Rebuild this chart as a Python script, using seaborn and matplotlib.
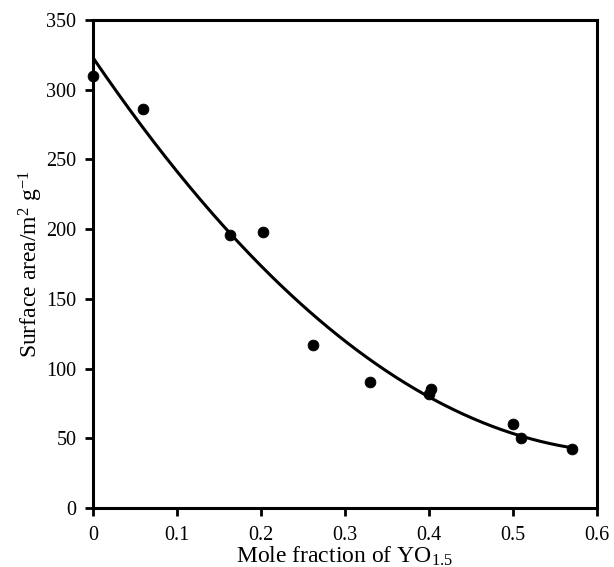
import numpy as np
import pandas as pd
import matplotlib
matplotlib.use("Agg")
import matplotlib.pyplot as plt
import seaborn as sns

mole_fraction = [0.0, 0.06, 0.163, 0.203, 0.262, 0.33, 0.40, 0.402, 0.50, 0.51, 0.57]
surface_area = [310, 286, 196, 198, 117, 90, 82, 85, 60, 50, 42]
x_ticks = [0, 0.1, 0.2, 0.3, 0.4, 0.5, 0.6]
x_tick_labels = ["0", "0.1", "0.2", "0.3", "0.4", "0.5", "0.6"]
y_ticks = [0, 50, 100, 150, 200, 250, 300, 350]

sns.set_theme(style="white")
plt.rcParams['font.family'] = ['Liberation Serif', 'DejaVu Serif']
plt.rcParams['mathtext.fontset'] = 'custom'
plt.rcParams['mathtext.rm'] = 'Liberation Serif'
plt.rcParams['mathtext.it'] = 'Liberation Serif:italic'

df = pd.DataFrame({"x": mole_fraction, "y": surface_area})

fig = plt.figure(figsize=(6.14, 5.67), dpi=100)
ax = fig.add_axes([0.1515, 0.104, 0.8205, 0.861])

coef = np.polyfit(df["x"], df["y"], 2)
xs = np.linspace(0, max(mole_fraction), 200)
fit = pd.DataFrame({"x": xs, "y": np.polyval(coef, xs)})
sns.lineplot(data=fit, x="x", y="y", ax=ax, color="black", linewidth=2.2)
sns.scatterplot(data=df, x="x", y="y", ax=ax, color="black", s=60, edgecolor="black", zorder=3, clip_on=False)

ax.set_xlim(0, 0.6)
ax.set_ylim(0, 350)
ax.set_xticks(x_ticks)
ax.set_xticklabels(x_tick_labels)
ax.set_yticks(y_ticks)
for s in ax.spines.values():
    s.set_color("black")
    s.set_linewidth(2.2)
ax.tick_params(axis="both", which="major", direction="out", length=6, width=2,
               color="black", labelsize=14.5, labelcolor="black", left=True, bottom=True)
ax.tick_params(axis="y", pad=6)
ax.tick_params(axis="x", pad=7)
ax.set_xlabel("Mole fraction of YO$_{1.5}$", fontsize=17, color="black", labelpad=-0.5)
ax.set_ylabel("Surface area/m$^{2}$ g$^{-1}$", fontsize=17, color="black", labelpad=1)

fig.savefig("out.png", dpi=100)
